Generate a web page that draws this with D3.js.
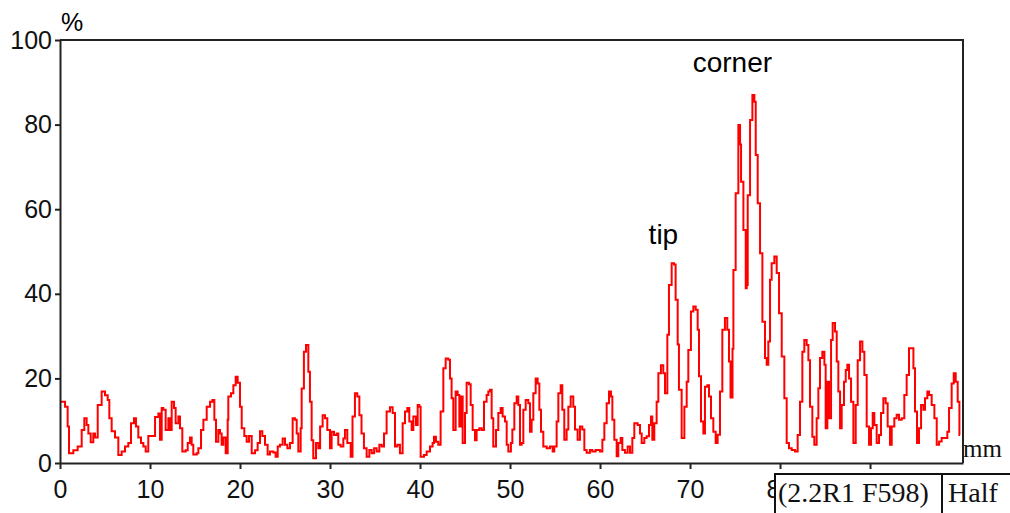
<!DOCTYPE html>
<html>
<head>
  <meta charset="utf-8">
  <title>Wear profile</title>
  <script src="https://cdn.jsdelivr.net/npm/d3@7"></script>
  <style>
    body { margin: 0; background: #fff; }
    svg { display: block; }
    .tick text { font-family: "Liberation Sans", Arial, sans-serif; font-size: 25px; fill: #111; }
    .note { font-family: "Liberation Sans", Arial, sans-serif; font-size: 28px; fill: #000; }
    .tag { font-family: "Liberation Serif", "Times New Roman", serif; font-size: 28px; fill: #111; }
  </style>
</head>
<body>
<svg id="chart" width="1010" height="513"></svg>
<script>
// axis ticks (the 90 label sits under the tag box, so it has no text)
var xTicks = [0, 10, 20, 30, 40, 50, 60, 70, 80, 90];
var xTickLabels = ['0', '10', '20', '30', '40', '50', '60', '70', '80', ''];
var yTicks = [0, 20, 40, 60, 80, 100];

// [mm, %]
var profileA = [[0,14.5],[0.56,13.3],[0.85,8.6],[1.0,2.3],[1.48,3],[1.96,3.9],[2.41,7.8],[2.7,10.6],[2.96,9],[3.15,7],
  [3.41,4.9],[3.7,7],[3.89,6],[4.19,13.7],[4.63,16.9],[5.0,16],[5.3,14.9],[5.48,10.6],[5.74,7.5],[6.11,6],
  [6.48,1.9],[6.85,2.7],[7.22,3.9],[7.59,4.7],[7.89,9.4],[8.22,10.6],[8.44,8.6],[8.7,6],[9.0,4.7],[9.26,3.9],
  [9.52,2.7],[9.81,6.4],[10.56,10.9],[10.93,11.7],[11.11,5.5],[11.3,13],[11.48,12.6],[11.74,7.8],[12.04,10.6],[12.22,7.8],
  [12.41,14.5],[12.67,13],[12.85,9.4],[13.15,11],[13.33,8.2],[13.59,2.7],[13.96,3],[14.19,4.7],[14.44,6],[14.63,4.3],
  [14.81,2],[15.19,2.3],[15.37,3.5],[15.67,7.8],[15.93,10.2],[16.3,13.3],[16.67,14.5],[16.93,14.9],[17.15,10.2],[17.33,5],
  [17.59,7.8],[17.78,7],[17.96,4.3],[18.15,6],[18.41,2.3],[18.63,10.2],[18.7,15.7],[19.0,16.5],[19.26,18.4],[19.52,20.4],
  [19.74,19],[20.0,13.3],[20.19,8.2],[20.48,6.4],[20.74,5],[21.0,6.4],[21.3,2.3],[21.67,3],[21.96,4.7],[22.22,7.5],
  [22.48,6.4],[22.78,4.3],[23.07,2],[23.33,2.7],[23.7,2.5],[23.96,1.5],[24.19,3.9],[24.44,4.3],[24.74,5.8]];

var profileB = [[25.0,4.3],[25.26,3.5],[25.55,4.7],[25.85,10.6],[26.1,10.2],[26.3,7],[26.48,2.7],[26.74,8.2],[26.85,17.6],
  [27.1,26.3],[27.33,27.9],[27.59,21.6],[27.77,14.5],[27.96,5.4],[28.14,1.1],[28.44,4.7],[28.7,3.5],[28.9,8.6],[29.18,11.3],
  [29.44,10.6],[29.7,7.8],[30.0,3.5],[30.18,7.4],[30.44,6.6],[30.74,7],[30.92,4.3],[31.18,3.9],[31.48,5.8],[31.66,7.8],
  [31.92,4.7],[32.3,1.5],[32.5,11],[32.77,16.5],[33.03,15.7],[33.26,11.3],[33.5,7],[33.77,3.5],[34.07,1.5],[34.37,3.1],
  [34.63,2.3],[34.9,3.5],[35.18,2.7],[35.48,4.3],[35.74,3.9],[36.0,7],[36.29,12.2],[36.66,13.2],[36.96,11.8],[37.22,3.9],
  [37.48,4.3],[37.77,2.3],[38.07,9.4],[38.33,12.2],[38.59,13],[38.81,9.8],[39.07,7.8],[39.26,11],[39.55,9],[39.74,13.7],
  [39.92,13.3],[40.07,1.5],[40.44,1.9],[40.74,2.7],[41.11,3.9],[41.4,4.7],[41.55,6.2],[41.77,5],[42.03,4.3],[42.29,12.2],
  [42.59,22.4],[42.85,24.7],[43.14,24.4],[43.33,20],[43.51,15.3],[43.7,7.8],[43.96,16.9],[44.18,16.1],[44.37,8.6],[44.52,15.7],
  [44.74,4.7],[45.0,11.8],[45.18,19],[45.44,18.6],[45.63,13.7],[45.85,7.8],[46.11,5.4],[46.29,7.8],[46.59,8.2],[46.85,7.8],
  [47.11,14.5],[47.4,16.1],[47.59,16.9],[47.77,17.3],[47.96,10.6],[48.14,3.9],[48.44,7.8],[48.7,11.8],[48.96,13],[49.18,11]];

var profileC = [[49.44,9.8],[49.63,4.3],[49.81,2.7],[50.1,4.7],[50.26,7.9],[50.48,14.1],[50.74,15.7],[50.92,13.7],[51.11,4.3],
  [51.29,4.7],[51.48,12.6],[51.74,14.9],[52.03,14.1],[52.22,7.4],[52.4,10.2],[52.59,16.5],[52.85,20],[53.07,18.8],[53.26,12.6],
  [53.44,7.4],[53.7,3.9],[54.07,3.5],[54.44,3.9],[54.74,2.7],[54.92,3.9],[55.18,9.8],[55.37,16.5],[55.63,18.4],[55.81,12.6],
  [56.03,5.5],[56.29,7.9],[56.48,13.3],[56.74,15.7],[57.03,13.3],[57.22,7.9],[57.51,5.5],[57.77,8.6],[58.03,7.9],[58.26,3.1],
  [58.51,2.4],[58.88,3.1],[59.14,2.7],[59.51,3.1],[59.99,2.7],[60.26,5.5],[60.48,9.4],[60.74,14.1],[61.0,16.9],[61.22,15.7],
  [61.37,10.2],[61.59,5.5],[61.85,1.6],[62.03,4.7],[62.29,5.9],[62.48,3.1],[62.77,2.4],[63.07,3.9],[63.33,2.4],[63.59,5.9],
  [63.81,9.4],[64.18,9],[64.44,7],[64.63,4.7],[64.92,5.9],[65.18,6.3],[65.44,9],[65.66,11],[65.81,5.5],[66.03,9.4],
  [66.29,14.5],[66.48,21.2],[66.77,23.1],[67.03,21.2],[67.22,16.5],[67.48,30.3],[67.66,42.1],[67.96,47.2],[68.22,46.9],[68.4,38.6],
  [68.63,28],[68.77,17.3],[69.07,5.9],[69.37,13.3],[69.63,19.2],[69.81,26.7],[70.1,35.8],[70.37,37],[70.63,36.2],[70.85,31.5],
  [71.0,20.5],[71.22,9.8],[71.48,7],[71.66,18],[71.92,18.4],[72.11,15.7],[72.33,10.6],[72.59,7.4],[72.85,4.7],[73.07,6.7],
  [73.33,16.9],[73.59,31.5],[73.88,34.3]];

var profileD = [[74.14,31.5],[74.33,24],[74.5,15.5],[74.72,27],[74.82,45.6],[75.07,63.8],[75.37,79.9],[75.56,75.3],[75.67,66.5],
  [75.93,55.1],[76.19,41.3],[76.3,42.1],[76.41,63.3],[76.67,81.1],[76.93,87],[77.15,85.4],[77.3,72.8],[77.52,61.4],[77.78,49.6],
  [78.04,33.4],[78.33,24.8],[78.52,23.2],[78.7,28.7],[78.89,43.3],[79.07,47.2],[79.37,48.8],[79.63,44.9],[79.89,35.4],[80.19,25.2],
  [80.48,15.3],[80.74,4.7],[81.0,3.5],[81.3,3.1],[81.67,2.7],[81.96,6.6],[82.22,14.5],[82.48,26.3],[82.7,29.1],[82.96,27.9],
  [83.15,24.3],[83.33,13.3],[83.59,6.2],[83.81,4.3],[84.07,10.6],[84.26,17.7],[84.44,24.8],[84.7,26.3],[84.93,23.2],[85.07,8.2],
  [85.26,19.2],[85.44,10.6],[85.67,29.1],[85.85,33.1],[86.11,31.1],[86.3,24],[86.48,16.9],[86.67,8.2],[86.85,13.7],[87.11,19.2],
  [87.3,22],[87.48,23.2],[87.67,20],[87.89,14.5],[88.15,4.7],[88.41,13.7],[88.63,24.3],[88.89,28.7],[89.15,26.3],[89.37,20.8],
  [89.63,8.6],[89.89,4.3],[90.11,8.2],[90.3,11.8],[90.48,9],[90.74,4.7],[91.0,6.6],[91.22,11.8],[91.48,15.3],[91.74,14.1],
  [91.96,8.6],[92.22,4.3],[92.41,8.6],[92.7,10.6],[92.96,11.4],[93.22,10.2],[93.52,10.6],[93.81,16.1],[94.07,20.8],[94.33,27.1],
  [94.56,27.1],[94.82,22.4],[95.0,12.2],[95.22,4.7],[95.44,8.2],[95.67,13.7],[95.93,12.6],[96.11,15.3],[96.37,16.9],[96.56,16.1],
  [96.85,13.7],[97.15,10.6],[97.41,4.3],[97.67,5.1],[97.96,5.9],[98.33,5.9],[98.59,7.4],[98.78,13],[99.07,18.8],[99.3,21.2],
  [99.52,19.2],[99.74,14.5],[99.93,6.6],[100.0,6.6]];

var profile = profileA.concat(profileB, profileC, profileD);

var svg = d3.select('#chart');
var axisColor = '#222';
var tagLeft = 775;

var x = d3.scaleLinear().domain([0, 100.33]).range([60, 963]);
var y = d3.scaleLinear().domain([0, 100]).range([463, 40]);

// trace
svg.append('path')
  .datum(profile)
  .attr('fill', 'none')
  .attr('stroke', '#ff0000')
  .attr('stroke-width', 2)
  .attr('d', d3.line()
    .x(function (d) { return x(d[0]); })
    .y(function (d) { return y(d[1]); })
    .curve(d3.curveStepAfter));

// top and right frame
svg.append('path')
  .attr('fill', 'none')
  .attr('stroke', axisColor)
  .attr('stroke-width', 2)
  .attr('d', 'M' + x.range()[0] + ',' + y(100) + 'H' + x.range()[1] + 'V' + y(0));

// axes
var gx = svg.append('g')
  .attr('transform', 'translate(0,' + y(0) + ')')
  .call(d3.axisBottom(x).tickValues(xTicks).tickSize(6).tickSizeOuter(0).tickPadding(11)
    .tickFormat(function (d, i) { return xTickLabels[i]; }));
var gy = svg.append('g')
  .attr('transform', 'translate(' + x(0) + ',0)')
  .call(d3.axisLeft(y).tickValues(yTicks).tickSize(5).tickSizeOuter(0).tickPadding(3));
[gx, gy].forEach(function (g) {
  g.select('.domain').attr('stroke', axisColor).attr('stroke-width', 2);
  g.selectAll('.tick line').attr('stroke', axisColor).attr('stroke-width', 2);
  g.attr('font-family', null).attr('font-size', null);
});

// the 80 label is half hidden by the tag box: cut it at the box edge
gx.selectAll('.tick').filter(function (d) { return x(d) > tagLeft - 20 && x(d) < tagLeft + 20; })
  .each(function (d, i) {
    var id = 'cut' + i;
    var t = d3.select(this);
    t.append('clipPath').attr('id', id)
      .append('rect').attr('x', -100).attr('y', 0).attr('width', 100 + tagLeft - x(d)).attr('height', 60);
    t.select('text').attr('clip-path', 'url(#' + id + ')');
  });

// unit labels
svg.append('text').attr('class', 'note').attr('x', 61).attr('y', 31).style('font-size', '25px').text('%');
svg.append('text').attr('class', 'tag').attr('x', 963).attr('y', 457).style('font-size', '25px').text('mm');

// annotations
svg.append('text').attr('class', 'note').attr('x', x(65.4)).attr('y', 244).text('tip');
svg.append('text').attr('class', 'note').attr('x', x(70.3)).attr('y', 72).text('corner');

// tool tag box over the bottom-right corner
var tag = svg.append('g');
tag.append('rect').attr('x', tagLeft).attr('y', 474).attr('width', 260).attr('height', 60)
  .attr('fill', '#fff').attr('stroke', '#111').attr('stroke-width', 2);
tag.append('line').attr('x1', 942).attr('x2', 942).attr('y1', 474).attr('y2', 513)
  .attr('stroke', '#111').attr('stroke-width', 2);
tag.append('text').attr('class', 'tag').attr('x', 778).attr('y', 502).text('(2.2R1 F598)');
tag.append('text').attr('class', 'tag').attr('x', 948).attr('y', 502).text('Half');
</script>
</body>
</html>
